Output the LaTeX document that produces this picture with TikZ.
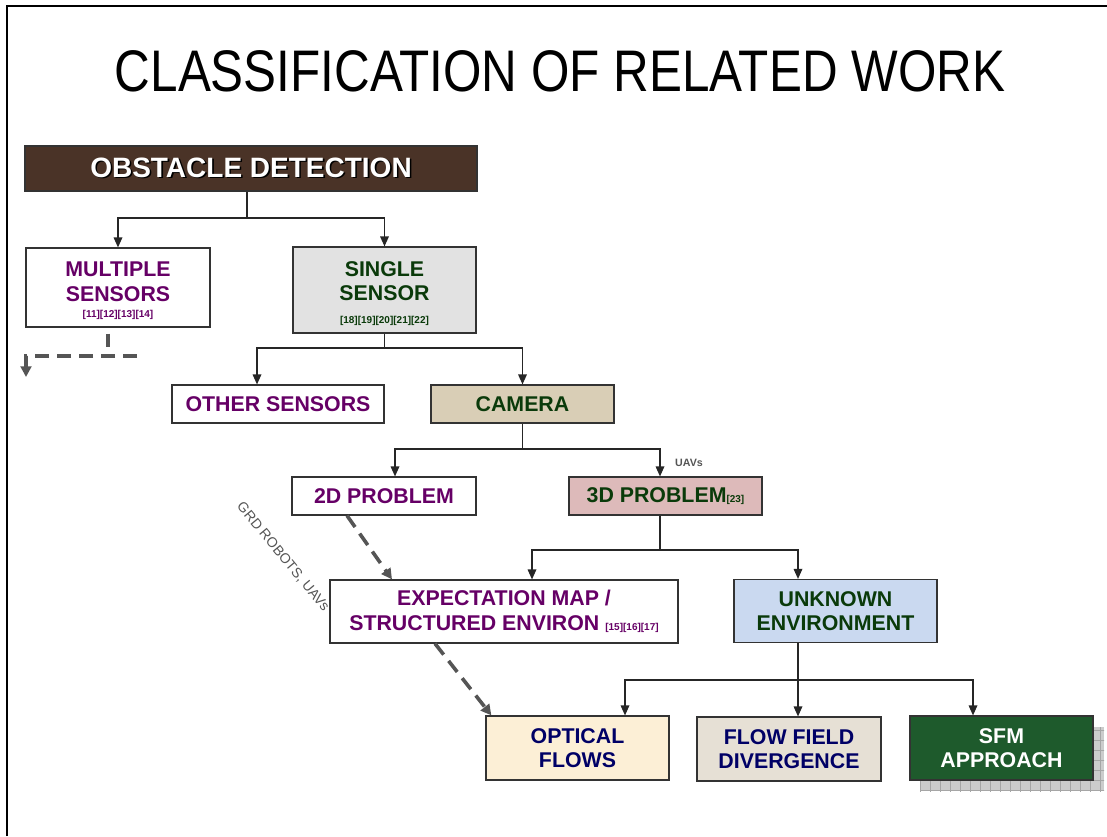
\documentclass[tikz,border=0pt]{standalone}
\usepackage{fontspec}
\setmainfont{Liberation Sans}
\usetikzlibrary{arrows.meta,calc}
\definecolor{tpurple}{HTML}{660066}
\definecolor{tgreen}{HTML}{0A3A0A}
\definecolor{tnavy}{HTML}{000066}
\definecolor{odbrown}{HTML}{4A3327}
\definecolor{ssgray}{HTML}{E2E2E2}
\definecolor{camtan}{HTML}{D9CEB6}
\definecolor{pinkthree}{HTML}{DDBABA}
\definecolor{uelblue}{HTML}{CAD9F0}
\definecolor{ofcream}{HTML}{FCEFD6}
\definecolor{ffbeige}{HTML}{E6E0D5}
\definecolor{sfmgreen}{HTML}{1E5A2C}
\definecolor{dashgray}{HTML}{555555}
\definecolor{shadowgray}{HTML}{CCCCCC}
\def\pxu{0.75pt}
\newcommand{\refs}[1]{{\fontsize{7.5}{9}\selectfont #1}}
\tikzset{
  box/.style={draw=black!80, line width=0.9pt, align=center, inner sep=0pt,
    font=\bfseries\fontsize{16}{18.5}\selectfont},
  boxtext/.style={align=center, inner sep=0pt, font=\bfseries\fontsize{16}{18.5}\selectfont},
  reftext/.style={inner sep=0pt, font=\bfseries\fontsize{7.5}{9}\selectfont},
  ln/.style={line width=0.9pt, black!85},
  arr/.style={ln, -{Triangle[length=7.5pt,width=6.5pt]}},
  dsh/.style={line width=2.7pt, color=dashgray, dash pattern=on 10.5pt off 6pt,
    -{Triangle[length=8pt,width=8pt]}},
  dshline/.style={line width=2.7pt, color=dashgray, dash pattern=on 10.5pt off 6pt},
  note/.style={text=dashgray, inner sep=0pt}
}
\begin{document}
\begin{tikzpicture}[x=0.75pt,y=-0.75pt]
\useasboundingbox (0,0) rectangle (1107,836);
% frame
\draw[line width=1.8pt] (7,836) -- (7,6) -- (1107,6);
% title
\node[inner sep=0pt] (title) at (560,71) {\fontsize{44}{50}\selectfont\scalebox{0.842}[1]{CLASSIFICATION OF RELATED WORK}};

% SFM shadow
\begin{scope}
\clip (920,727) rectangle (1104,791);
\fill[shadowgray] (920,727) rectangle (1104,791);
\draw[black!35, line width=0.4pt, step=7.5pt] (915,720) grid (1110,795);
\end{scope}

% boxes
\node[box, fill=odbrown, text=white, font=\bfseries\fontsize{21}{25}\selectfont,
  minimum width=452*\pxu, minimum height=45*\pxu] (od) at (251,168.5)
  {\makebox[0pt][l]{\raisebox{-1.2pt}{\hspace{1.2pt}\textcolor{black}{OBSTACLE DETECTION}}}OBSTACLE DETECTION};
\node[box, fill=white, minimum width=184*\pxu, minimum height=79*\pxu] (ms) at (118,287.5) {};
\node[boxtext, text=tpurple] (msT) at (118,282) {MULTIPLE\\SENSORS};
\node[reftext, text=tpurple] (msR) at (118,315) {[11][12][13][14]};
\node[box, fill=ssgray, minimum width=183*\pxu, minimum height=86*\pxu] (ss) at (384.5,290) {};
\node[boxtext, text=tgreen] (ssT) at (384.5,281) {SINGLE\\SENSOR};
\node[reftext, text=tgreen] (ssR) at (384.5,321) {[18][19][20][21][22]};
\node[box, fill=white, text=tpurple, minimum width=212*\pxu, minimum height=38*\pxu] (os) at (278,404)
  {OTHER SENSORS};
\node[box, fill=camtan, text=tgreen, minimum width=183*\pxu, minimum height=38*\pxu] (cam) at (522.5,404)
  {CAMERA};
\node[box, fill=white, text=tpurple, minimum width=184*\pxu, minimum height=38*\pxu] (p2) at (384,496)
  {2D PROBLEM};
\node[box, fill=pinkthree, text=tgreen, minimum width=193*\pxu, minimum height=38*\pxu] (p3) at (665.5,496)
  {3D PROBLEM\refs{[23]}};
\node[box, fill=white, text=tpurple, minimum width=348*\pxu, minimum height=63*\pxu] (em) at (504,611.5)
  {EXPECTATION MAP /\\STRUCTURED ENVIRON \refs{[15][16][17]}};
\node[box, fill=uelblue, text=tgreen, minimum width=203*\pxu, minimum height=63*\pxu] (ue) at (835.5,611)
  {UNKNOWN\\ENVIRONMENT};
\node[box, fill=ofcream, text=tnavy, minimum width=183*\pxu, minimum height=64*\pxu] (of) at (577.5,748)
  {OPTICAL\\FLOWS};
\node[box, fill=ffbeige, text=tnavy, minimum width=184*\pxu, minimum height=64*\pxu] (ff) at (789,749)
  {FLOW FIELD\\DIVERGENCE};
\node[box, fill=sfmgreen, text=white, minimum width=183*\pxu, minimum height=64*\pxu] (sfm) at (1001.5,748)
  {SFM\\APPROACH};

% tree connectors
\coordinate (a1) at (247,218);
\draw[ln] (od.south -| a1) -- (a1);
\draw[arr] (a1) -| (ms.north);
\draw[arr] (a1) -| (ss.north);

\coordinate (a2) at (384.5,348);
\draw[ln] (ss.south -| a2) -- (a2);
\draw[arr] (a2) -| ($(os.north)+(-21,0)$);
\draw[arr] (a2) -| (cam.north);

\coordinate (a3) at (522.5,449);
\draw[ln] (cam.south -| a3) -- (a3);
\draw[arr] (a3) -| ($(p2.north)+(11,0)$);
\draw[arr] (a3) -| ($(p3.north)+(-5.5,0)$);
\node[note, font=\bfseries\fontsize{8}{9}\selectfont] (uav) at (689,463) {UAVs};

\coordinate (a4) at (660,550);
\draw[ln] (p3.south -| a4) -- (a4);
\draw[arr] (a4) -| ($(em.north)+(28,0)$);
\draw[arr] (a4) -| ($(ue.north)+(-37.5,0)$);

\coordinate (a5) at (798,680);
\draw[ln] (ue.south -| a5) -- (a5);
\draw[arr] (a5) -| ($(of.north)+(47.5,0)$);
\draw[arr] (a5) -- ($(ff.north)+(9,0)$);
\draw[arr] (a5) -| ($(sfm.north)+(-28.5,0)$);

% dashed connectors
\draw[dsh] ($(p2.south)+(-37,0)$) -- ($(em.north)+(-112,0)$);
\draw[dsh] ($(em.south)+(-69,0)$) -- ($(of.north west)+(6,0)$);
\node[note, font=\fontsize{10.5}{12}\selectfont, rotate=-50.5] (grd) at (283,557) {GRD ROBOTS, UAVs};

\coordinate (d1) at (137,356);
\coordinate (d2) at (26,377);
\draw[dshline] ($(ms.south)+(-10,6)$) -- ($(ms.south)+(-10,19)$);
\draw[dsh] (d1) -| (d2);
\end{tikzpicture}
\end{document}
